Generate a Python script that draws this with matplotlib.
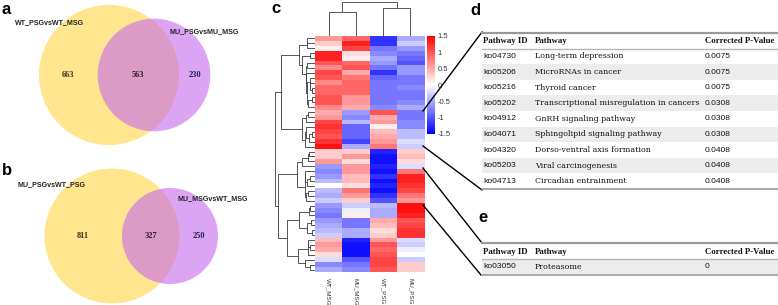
import numpy as np
import matplotlib
matplotlib.use('Agg')
import matplotlib.pyplot as plt
from matplotlib.patches import Circle, Rectangle

W, H = 778, 305

# venn a / b : left-only, both, right-only
vennASets = ['WT_PSGvsWT_MSG', 'MU_PSGvsMU_MSG']
vennACounts = [663, 563, 230]
vennBSets = ['MU_PSGvsWT_PSG', 'MU_MSGvsWT_MSG']
vennBCounts = [811, 327, 250]

# heatmap (row z-scores, top to bottom)
samples = ['WT_MSG', 'MU_MSG', 'WT_PSG', 'MU_PSG']
wtMsg = [0.6, 0.3, 0.1, 1.3, 1.3, 1.0, 0.7, 1.1, 1.0, 0.7, 0.9, 0.9,
         1.0, 1.0, 0.7, 0.5, 0.6, 1.1, 1.2, 1.1, 1.0, 1.2, 1.4, 0.3,
         0.3, 0.6, -0.6, -0.7, -0.6, -0.4, 0.0, -0.4, -0.5, -0.3, -0.6, -0.7,
         -0.8, -0.6, -0.5, -0.4, -0.3, 0.4, 0.6, 0.5, 0.2, -0.2, -0.7, -0.5]
muMsg = [0.9, 1.3, 1.1, 0.2, 0.1, 0.9, 1.0, 0.5, 0.8, 0.9, 0.9, 0.9,
         0.6, 0.6, 0.5, -0.6, -0.7, -0.4, -0.9, -0.9, -0.9, -1.1, -0.5, 0.3,
         0.6, 0.2, 0.6, 0.6, 0.4, 0.4, 0.2, 0.8, 0.6, 0.3, -0.3, -0.1,
         0.1, -0.8, -0.8, -0.5, -0.5, -1.3, -1.4, -1.4, -1.4, -1.0, -0.8, -0.7]
wtPsg = [-1.2, -1.2, -0.8, -0.7, -0.5, -0.6, -0.8, -1.2, -0.9, -0.8, -0.8, -0.8,
         -0.8, -0.8, -0.7, 1.0, 0.5, 0.6, 0.1, 0.4, 0.5, 0.6, 0.8, -1.3,
         -1.4, -1.4, -1.3, -1.4, -1.2, -1.4, -1.3, -1.4, -1.2, -1.0, -0.4, -0.5,
         -0.5, 0.5, 0.4, 0.2, 0.3, 0.6, 1.0, 0.9, 1.0, 1.1, 1.1, 1.0]
muPsg = [-0.5, -0.3, -0.6, -0.8, -0.9, -1.0, -0.6, -0.6, -0.8, -0.8, -0.7, -0.8,
         -0.8, -0.7, -0.5, -0.8, -0.8, -0.7, -0.7, -0.4, -0.4, -0.2, -0.3, 0.3,
         0.4, 0.2, -0.2, 0.8, 1.3, 1.3, 1.2, 1.1, 0.8, 0.6, 1.4, 1.4,
         1.3, 1.0, 1.1, 1.2, 1.2, -0.2, -0.3, -0.1, 0.0, -0.3, 0.3, 0.3]

# tables
tableHeader = ['Pathway ID', 'Pathway', 'Corrected P-Value']
dIds = ['ko04730', 'ko05206', 'ko05216', 'ko05202', 'ko04912', 'ko04071', 'ko04320', 'ko05203', 'ko04713']
dNames = ['Long-term depression', 'MicroRNAs in cancer', 'Thyroid cancer',
          'Transcriptional misregulation in cancers', 'GnRH signaling pathway',
          'Sphingolipid signaling pathway', 'Dorso-ventral axis formation',
          'Viral carcinogenesis', 'Circadian entrainment']
dPvals = ['0.0075', '0.0075', '0.0075', '0.0308', '0.0308', '0.0308', '0.0408', '0.0408', '0.0408']
eIds = ['ko03050']
eNames = ['Proteasome']
ePvals = ['0']


def figAxes(fig, x, y, w, h):
    return fig.add_axes([x / W, 1 - (y + h) / H, w / W, h / H])


def chainLinkage(X):
    # ward linkage, only neighbouring clusters may merge (keeps the drawn order)
    clusters = [(X[i].astype(float), 1, float(i), 0.0) for i in range(len(X))]
    links = []
    while len(clusters) > 1:
        best, bestD = 0, None
        for j in range(len(clusters) - 1):
            ca, na = clusters[j][0], clusters[j][1]
            cb, nb = clusters[j + 1][0], clusters[j + 1][1]
            d = np.sqrt(2.0 * na * nb / (na + nb)) * np.linalg.norm(ca - cb)
            if bestD is None or d < bestD:
                best, bestD = j, d
        a, b = clusters[best], clusters[best + 1]
        h = max(bestD, a[3], b[3])
        links.append((a[2], a[3], b[2], b[3], h))
        n = a[1] + b[1]
        cent = (a[0] * a[1] + b[0] * b[1]) / n
        clusters[best:best + 2] = [(cent, n, (a[2] + b[2]) / 2, h)]
    return links


fig = plt.figure(figsize=(W / 100, H / 100), dpi=100)

ov = fig.add_axes([0, 0, 1, 1])
ov.set_xlim(0, W)
ov.set_ylim(H, 0)
ov.axis('off')
ov.set_zorder(5)
ov.patch.set_alpha(0)

labelFont = dict(fontsize=12, fontweight='bold', family='Liberation Sans')
ov.text(2, 14, 'a', **labelFont)
ov.text(2, 175, 'b', **labelFont)
ov.text(271, 13, 'c', **labelFont)
ov.text(470, 15, 'd', **labelFont)
ov.text(478, 222, 'e', **labelFont)

# venn diagrams, circle area ~ set size
K = 2.0
yellow = '#FFE27A'
purple = '#C569EE'


def drawVenn(cxLeft, cxRight, cy, sets, counts, setPos):
    r1 = K * np.sqrt(counts[0] + counts[1])
    r2 = K * np.sqrt(counts[1] + counts[2])
    ov.add_patch(Circle((cxLeft, cy), r1, color=yellow, alpha=0.85, lw=0))
    ov.add_patch(Circle((cxRight, cy), r2, color=purple, alpha=0.6, lw=0))
    xs = [(cxLeft - r1 + cxRight - r2) / 2,
          (cxRight - r2 + cxLeft + r1) / 2,
          (cxLeft + r1 + cxRight + r2) / 2]
    cols = ['#3a3020', '#2a1a28', '#1e1e66']
    for x, c, col in zip(xs, counts, cols):
        ov.text(x, cy, str(c), ha='center', va='center', fontsize=6,
                fontweight='bold', family='Liberation Serif', color=col)
    for (tx, ty), s in zip(setPos, sets):
        ov.text(tx, ty, s, ha='left', va='center', fontsize=5.1,
                fontweight='bold', family='Liberation Sans', color='#222222')


drawVenn(109, 154, 75, vennASets, vennACounts, [(15, 23), (170, 32)])
drawVenn(112, 170, 236, vennBSets, vennBCounts, [(18, 185), (178, 199)])

# heatmap
data = np.array([wtMsg, muMsg, wtPsg, muPsg]).T
nRows = data.shape[0]

hx, hy, hw, hh = 315, 36, 109, 236
axH = figAxes(fig, hx, hy, hw, hh)
im = axH.imshow(data, cmap='bwr', vmin=-1.5, vmax=1.5, aspect='auto',
                interpolation='nearest')
axH.set_yticks([])
axH.set_xticks(range(len(samples)))
axH.set_xticklabels(samples, rotation=270, fontsize=4.5, family='Liberation Sans',
                    color='#333333', va='top', ha='center')
axH.tick_params(axis='x', length=0, pad=4)
for s in axH.spines.values():
    s.set_visible(False)

# row dendrogram (heights drawn on a 0.6 power scale to spread the levels)
rowLinks = chainLinkage(data)
rowMax = max(l[4] for l in rowLinks) ** 0.6
axR = figAxes(fig, 273, hy, hx - 273, hh)
for pa, ha, pb, hb, h in rowLinks:
    ha, hb, h = ha ** 0.6, hb ** 0.6, h ** 0.6
    axR.plot([ha, h, h, hb], [pa, pa, pb, pb], color='#3a3a3a', lw=0.6)
axR.set_xlim(rowMax * 1.05, 0)
axR.set_ylim(nRows - 0.5, -0.5)
axR.axis('off')

# column dendrogram
colLinks = chainLinkage(data.T)
colMax = max(l[4] for l in colLinks)
axC = figAxes(fig, hx, 0, hw, hy)
for pa, ha, pb, hb, h in colLinks:
    axC.plot([pa, pa, pb, pb], [ha, h, h, hb], color='#555555', lw=0.7)
axC.set_xlim(-0.5, len(samples) - 0.5)
axC.set_ylim(0, colMax * 36 / 34)
axC.axis('off')

# colour key
axK = figAxes(fig, 427, 36, 8, 98)
cb = fig.colorbar(im, cax=axK, ticks=[1.5, 1, 0.5, 0, -0.5, -1, -1.5])
cb.outline.set_visible(False)
cb.ax.set_yticklabels(['1.5', '1', '0.5', '0', '-0.5', '-1', '-1.5'])
cb.ax.tick_params(length=0, pad=2, labelsize=5.5, labelcolor='#333333')
for t in cb.ax.get_yticklabels():
    t.set_family('Liberation Sans')

# connectors heatmap -> tables
for (x0, y0), (x1, y1) in [((423, 111), (482, 32)), ((423, 146), (482, 190)),
                           ((423, 168), (482, 243)), ((423, 205), (481, 275))]:
    ov.plot([x0, x1], [y0, y1], color='black', lw=1.0)

# tables
colX = [483, 535, 705]


def drawTable(yTop, rowH, ids, names, pvals):
    ov.plot([482, W], [yTop, yTop], color='#999999', lw=1.6)
    hy0 = yTop + rowH / 2 + 0.5
    for x, t in zip(colX, tableHeader):
        ov.text(x, hy0, t, ha='left', va='center', fontsize=6.3,
                fontweight='bold', family='Liberation Serif', color='#111111')
    yLine = yTop + rowH
    ov.plot([482, W], [yLine, yLine], color='#b5b5b5', lw=1.0)
    for i, (a, b, c) in enumerate(zip(ids, names, pvals)):
        yc = yLine + rowH * (i + 0.5)
        if i % 2 == 1 or len(ids) == 1:
            ov.add_patch(Rectangle((482, yc - rowH / 2), W - 482, rowH,
                                   color='#ececec', lw=0))
        ov.text(colX[0], yc, a, ha='left', va='center', fontsize=6.1,
                family='Liberation Sans', color='#111111')
        ov.text(colX[1], yc, b, ha='left', va='center', fontsize=5.7,
                family='DejaVu Serif', color='#111111')
        ov.text(colX[2], yc, c, ha='left', va='center', fontsize=6.0,
                family='Liberation Sans', color='#111111')
    yBot = yLine + rowH * len(ids)
    ov.plot([482, W], [yBot, yBot], color='#999999', lw=1.2)


drawTable(33, 15.6, dIds, dNames, dPvals)
drawTable(243, 16.0, eIds, eNames, ePvals)

fig.savefig('out.png', dpi=100)
